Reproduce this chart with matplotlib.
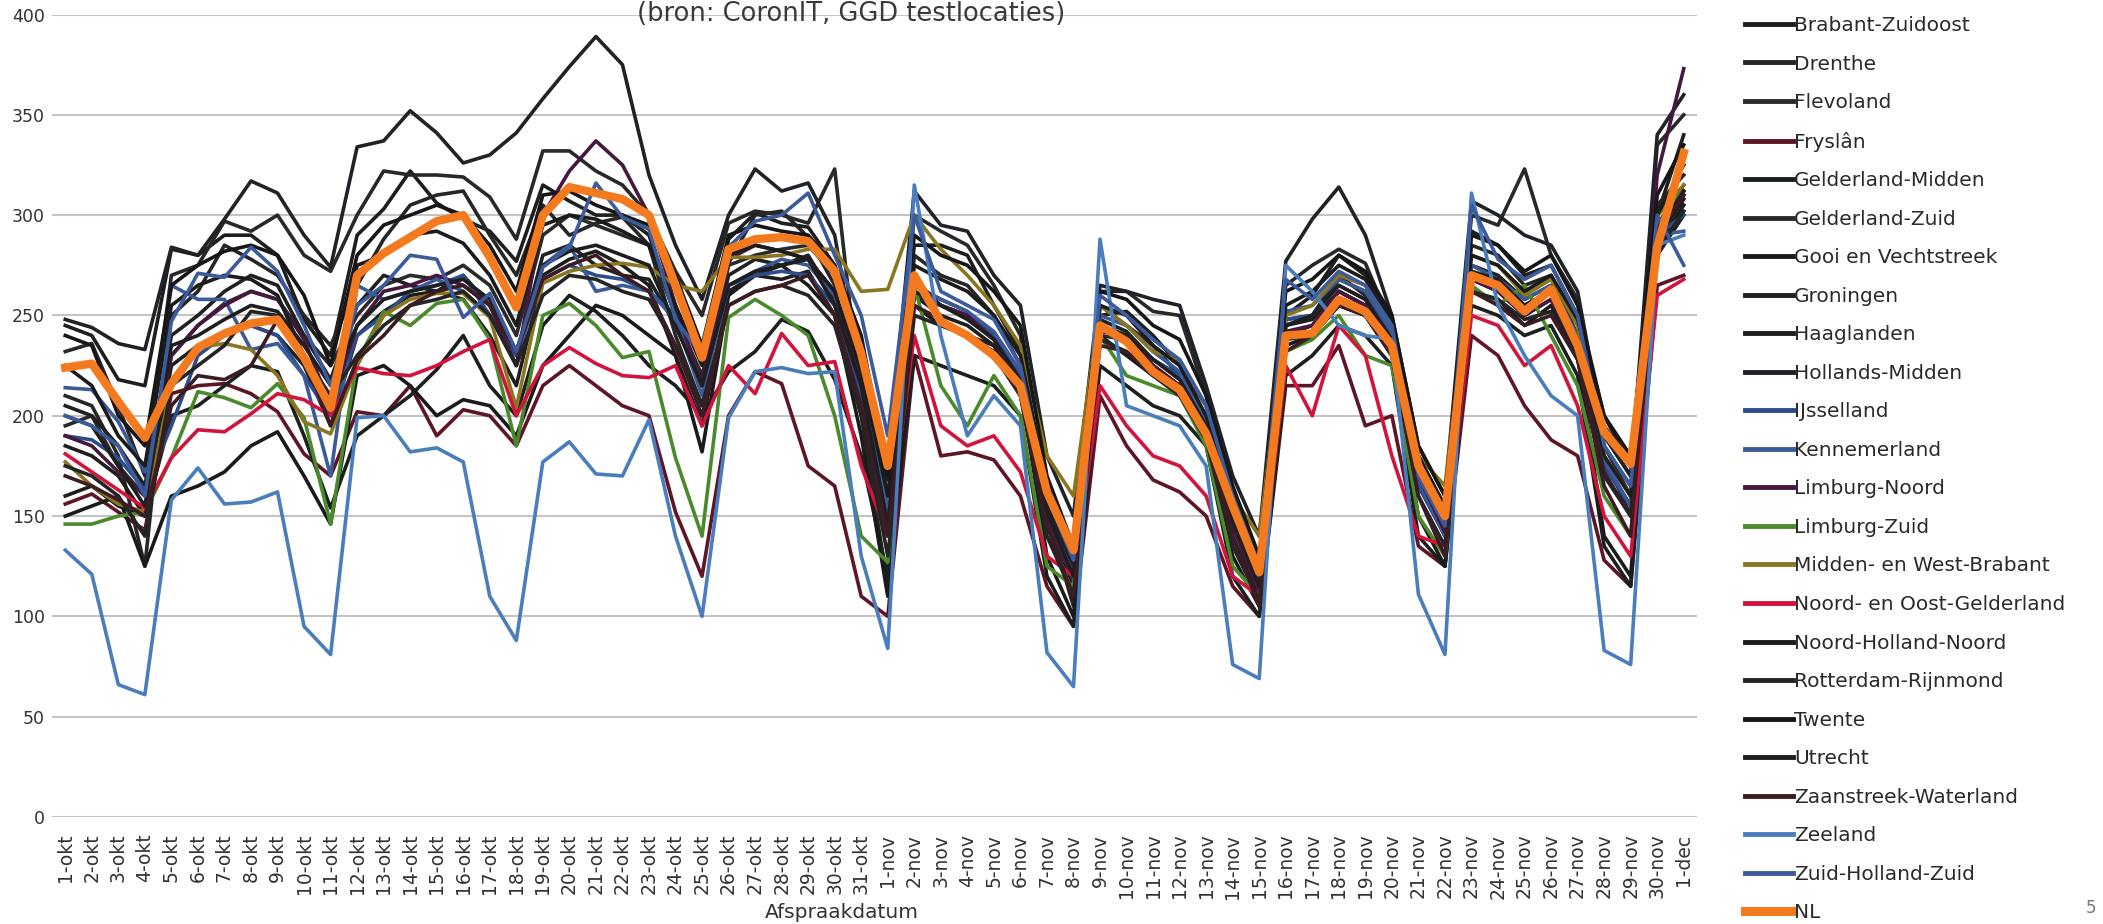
import matplotlib
matplotlib.use("Agg")
import matplotlib.pyplot as plt

days = [f"{d}-okt" for d in range(1, 32)] + [f"{d}-nov" for d in range(1, 31)] + ["1-dec"]

regions = ["Brabant-Zuidoost", "Drenthe", "Flevoland", "Fryslân", "Gelderland-Midden",
           "Gelderland-Zuid", "Gooi en Vechtstreek", "Groningen", "Haaglanden",
           "Hollands-Midden", "IJsselland", "Kennemerland", "Limburg-Noord", "Limburg-Zuid",
           "Midden- en West-Brabant", "Noord- en Oost-Gelderland", "Noord-Holland-Noord",
           "Rotterdam-Rijnmond", "Twente", "Utrecht", "Zaanstreek-Waterland", "Zeeland",
           "Zuid-Holland-Zuid", "NL"]

brabant_zo = [245, 240, 218, 215, 283, 280, 290, 290, 280, 248, 230, 290, 303, 322, 306, 298, 292, 277, 315, 307, 300, 300, 290, 252, 216, 288, 301, 296, 294, 275, 230,
              168, 285, 285, 280, 255, 232, 160, 125, 250, 252, 240, 225, 205, 160, 125, 250, 260, 280, 270, 245, 172, 145, 292, 285, 270, 275, 250, 200, 175, 300, 340]
drenthe = [210, 205, 180, 125, 250, 262, 285, 278, 270, 250, 235, 265, 288, 305, 310, 312, 290, 270, 305, 290, 296, 299, 285, 240, 205, 276, 300, 302, 289, 265, 200,
           115, 280, 270, 265, 250, 225, 150, 105, 255, 245, 235, 220, 195, 145, 115, 245, 250, 270, 260, 235, 170, 140, 285, 280, 265, 270, 240, 180, 150, 305, 320]
flevoland = [195, 200, 175, 160, 230, 245, 256, 262, 258, 240, 225, 250, 265, 270, 268, 275, 265, 240, 290, 300, 295, 290, 285, 250, 220, 275, 280, 283, 285, 270, 225,
             160, 260, 255, 250, 240, 220, 160, 130, 240, 238, 225, 215, 190, 150, 118, 240, 245, 262, 255, 238, 178, 150, 270, 268, 255, 262, 235, 190, 170, 290, 310]
fryslan = [156, 161, 152, 143, 211, 215, 216, 211, 202, 181, 170, 202, 200, 215, 190, 203, 200, 185, 215, 225, 215, 205, 200, 152, 120, 200, 222, 216, 175, 165, 110,
           100, 230, 180, 182, 178, 160, 115, 95, 210, 185, 168, 162, 150, 115, 100, 215, 215, 235, 195, 200, 135, 125, 240, 230, 205, 188, 180, 128, 115, 265, 270]
gelderland_m = [160, 165, 155, 150, 200, 205, 215, 225, 222, 190, 154, 190, 200, 210, 223, 240, 215, 200, 245, 260, 252, 240, 225, 215, 200, 222, 232, 248, 242, 218, 180,
                120, 230, 225, 220, 215, 200, 120, 95, 225, 215, 205, 200, 185, 120, 100, 220, 230, 245, 240, 225, 140, 125, 255, 250, 240, 245, 220, 135, 115, 280, 300]
gelderland_z = [232, 236, 205, 170, 270, 275, 297, 292, 300, 280, 272, 300, 322, 320, 320, 319, 309, 288, 332, 332, 322, 315, 300, 272, 250, 296, 302, 300, 296, 323, 205,
                150, 300, 292, 285, 265, 240, 150, 120, 262, 262, 252, 250, 210, 150, 120, 265, 275, 283, 276, 245, 180, 150, 300, 295, 323, 280, 258, 185, 160, 335, 350]
gooi = [150, 155, 160, 125, 160, 165, 172, 185, 192, 170, 146, 220, 225, 215, 200, 208, 205, 190, 225, 240, 255, 250, 240, 230, 182, 260, 270, 275, 265, 250, 190,
        110, 255, 245, 240, 235, 215, 130, 100, 240, 230, 220, 215, 190, 130, 105, 235, 240, 255, 250, 230, 150, 125, 262, 258, 245, 255, 230, 140, 120, 285, 305]
groningen = [205, 200, 185, 165, 240, 250, 262, 270, 265, 240, 218, 255, 270, 265, 262, 270, 255, 230, 280, 285, 275, 270, 268, 245, 215, 270, 278, 275, 280, 258, 210,
             150, 265, 258, 252, 240, 222, 155, 125, 248, 242, 228, 220, 195, 150, 118, 248, 250, 268, 262, 240, 175, 148, 275, 270, 258, 265, 240, 185, 165, 295, 315]
haaglanden = [185, 180, 170, 150, 225, 235, 240, 245, 240, 225, 195, 240, 252, 260, 262, 258, 240, 215, 270, 278, 282, 275, 265, 230, 195, 262, 270, 268, 272, 250, 205,
              140, 260, 250, 245, 235, 215, 150, 115, 245, 240, 225, 215, 192, 140, 110, 245, 248, 262, 255, 235, 170, 140, 268, 262, 250, 258, 232, 175, 155, 288, 308]
hollands_m = [248, 244, 236, 233, 284, 280, 298, 317, 311, 290, 274, 334, 337, 352, 341, 326, 330, 341, 358, 374, 389, 375, 320, 285, 258, 300, 323, 312, 316, 290, 215,
              175, 312, 295, 292, 270, 255, 180, 150, 265, 262, 258, 255, 215, 170, 140, 277, 298, 314, 290, 250, 185, 160, 307, 300, 290, 285, 262, 190, 170, 340, 360]
ijsselland = [190, 188, 179, 163, 195, 230, 240, 245, 240, 220, 200, 240, 250, 262, 265, 270, 250, 230, 268, 275, 270, 268, 262, 250, 215, 265, 270, 272, 270, 255, 210,
              150, 262, 255, 250, 240, 220, 150, 120, 245, 240, 228, 220, 195, 150, 118, 248, 250, 265, 258, 240, 165, 140, 270, 265, 255, 262, 238, 175, 155, 290, 300]
kennemerland = [214, 213, 197, 172, 265, 258, 258, 233, 236, 220, 170, 265, 258, 262, 268, 262, 250, 225, 275, 285, 262, 265, 262, 248, 210, 265, 272, 278, 275, 260, 215,
                155, 265, 258, 252, 242, 222, 150, 118, 250, 245, 232, 222, 198, 150, 115, 252, 255, 268, 262, 242, 168, 140, 275, 268, 258, 265, 240, 178, 155, 290, 292]
limburg_n = [190, 185, 172, 160, 230, 245, 255, 262, 258, 238, 205, 245, 262, 265, 270, 265, 255, 225, 300, 322, 337, 325, 300, 255, 215, 278, 285, 282, 278, 262, 215,
             145, 268, 255, 250, 238, 215, 150, 118, 242, 240, 225, 215, 192, 145, 112, 242, 245, 262, 255, 235, 170, 142, 268, 262, 250, 258, 232, 172, 150, 320, 373]
limburg_z = [146, 146, 150, 152, 179, 212, 209, 204, 216, 199, 146, 227, 252, 245, 256, 258, 238, 185, 250, 256, 245, 229, 232, 179, 140, 249, 258, 250, 240, 200, 140,
             127, 265, 215, 195, 220, 200, 125, 115, 240, 220, 215, 210, 185, 125, 110, 232, 238, 250, 230, 225, 150, 130, 265, 255, 265, 240, 215, 160, 140, 300, 312]
mwb = [177, 165, 156, 152, 216, 234, 236, 233, 220, 197, 191, 225, 250, 258, 261, 261, 249, 204, 266, 272, 275, 276, 274, 265, 262, 279, 279, 280, 283, 283, 262,
       263, 300, 283, 270, 255, 235, 180, 160, 255, 245, 232, 228, 205, 160, 140, 250, 255, 270, 265, 245, 180, 165, 280, 275, 260, 268, 245, 180, 160, 300, 315]
nog = [181, 172, 163, 154, 179, 193, 192, 201, 211, 208, 200, 224, 221, 220, 225, 232, 238, 200, 225, 234, 226, 220, 219, 225, 195, 225, 211, 241, 225, 227, 175,
       140, 240, 195, 185, 190, 172, 130, 120, 215, 195, 180, 175, 160, 120, 110, 225, 200, 245, 230, 180, 140, 135, 250, 245, 225, 235, 205, 150, 130, 260, 268]
nhn = [225, 215, 190, 175, 255, 265, 270, 268, 260, 230, 205, 275, 280, 290, 292, 286, 270, 245, 295, 300, 298, 292, 285, 255, 225, 280, 285, 282, 278, 262, 222,
       160, 275, 268, 262, 250, 230, 165, 130, 255, 250, 235, 225, 200, 160, 125, 255, 262, 275, 268, 248, 180, 155, 280, 275, 262, 270, 248, 195, 175, 300, 325]
rotterdam = [175, 170, 160, 140, 215, 225, 235, 252, 250, 230, 210, 230, 245, 255, 258, 262, 250, 225, 260, 270, 268, 262, 258, 235, 205, 255, 262, 265, 260, 245, 200,
             130, 250, 245, 240, 230, 210, 140, 110, 238, 232, 220, 210, 188, 135, 108, 238, 240, 255, 250, 230, 160, 135, 262, 258, 248, 252, 228, 170, 150, 282, 302]
twente = [240, 235, 200, 185, 265, 275, 282, 285, 280, 260, 225, 280, 295, 300, 305, 300, 285, 262, 310, 312, 305, 300, 295, 270, 235, 290, 295, 292, 290, 275, 240,
          170, 290, 280, 275, 262, 245, 170, 135, 262, 258, 245, 238, 210, 165, 130, 262, 268, 280, 272, 250, 185, 160, 290, 285, 272, 280, 255, 200, 180, 310, 335]
utrecht = [200, 195, 175, 155, 235, 240, 248, 255, 252, 235, 215, 245, 258, 262, 265, 268, 258, 232, 275, 282, 285, 280, 275, 245, 215, 265, 272, 275, 278, 255, 215,
           145, 262, 255, 248, 238, 218, 152, 120, 245, 240, 228, 218, 195, 148, 115, 245, 250, 265, 258, 238, 172, 145, 272, 268, 255, 262, 238, 180, 160, 292, 312]
zaanstreek = [170, 165, 158, 150, 205, 220, 218, 225, 248, 230, 195, 228, 240, 255, 262, 265, 255, 232, 268, 275, 280, 270, 262, 235, 200, 255, 262, 265, 270, 250, 205,
              140, 255, 248, 240, 232, 210, 145, 110, 235, 232, 220, 212, 190, 140, 105, 232, 240, 255, 250, 230, 160, 130, 262, 255, 245, 250, 228, 165, 140, 290, 310]
zeeland = [133, 121, 66, 61, 158, 174, 156, 157, 162, 95, 81, 199, 200, 182, 184, 177, 110, 88, 177, 187, 171, 170, 198, 140, 100, 199, 222, 224, 221, 222, 130,
           84, 315, 240, 190, 210, 195, 82, 65, 288, 205, 200, 195, 175, 76, 69, 275, 262, 245, 240, 238, 111, 81, 311, 255, 230, 210, 200, 83, 76, 285, 290]
zhz = [200, 195, 185, 160, 247, 271, 269, 284, 272, 245, 215, 255, 265, 280, 278, 249, 261, 232, 274, 284, 316, 299, 293, 248, 230, 284, 297, 300, 311, 280, 250,
       190, 300, 262, 255, 248, 225, 160, 128, 260, 250, 238, 228, 205, 160, 125, 268, 258, 272, 265, 245, 170, 145, 305, 278, 268, 275, 250, 185, 165, 300, 275]
nl = [224, 226, 207, 189, 216, 234, 241, 246, 248, 229, 204, 270, 281, 289, 297, 300, 279, 254, 300, 314, 311, 308, 300, 265, 229, 283, 288, 289, 287, 272, 231,
      175, 270, 247, 240, 230, 215, 162, 133, 245, 237, 222, 213, 191, 155, 122, 240, 241, 258, 252, 235, 175, 150, 270, 265, 252, 263, 235, 192, 176, 284, 331]

series = [brabant_zo, drenthe, flevoland, fryslan, gelderland_m, gelderland_z, gooi, groningen,
          haaglanden, hollands_m, ijsselland, kennemerland, limburg_n, limburg_z, mwb, nog, nhn,
          rotterdam, twente, utrecht, zaanstreek, zeeland, zhz, nl]

colors = ["#1e1e1e", "#262626", "#2a2a2a", "#5e1526", "#1c201c", "#282828", "#1a1a1a", "#202020",
          "#1d1d1d", "#1f2226", "#2d4c8c", "#3a5a98", "#46183f", "#4a8a2c", "#8a7620", "#d2143c",
          "#1b1b1b", "#242424", "#161616", "#1e1e1e", "#3a1c22", "#4a7dbb", "#3c5b9c", "#f47a20"]

plt.rcParams['font.family'] = ['DejaVu Sans']
fig = plt.figure(figsize=(21.03, 9.24), dpi=100)
ax = fig.add_axes([52 / 2103, 1 - 817 / 924, (1697 - 52) / 2103, (817 - 14.5) / 924])

x = list(range(len(days)))
for name, vals, c in zip(regions, series, colors):
    lw = 6.0 if name == "NL" else 2.6
    ax.plot(x, vals, color=c, lw=lw, label=name, solid_joinstyle='round',
            zorder=5 if name == "NL" else 3)

ax.set_xlim(-0.5, len(days) - 0.5)
ax.set_ylim(0, 400)
ax.set_yticks(range(0, 401, 50))
ax.set_xticks(x)
ax.set_xticklabels(days, rotation=90, va='top', ha='center')
ax.tick_params(axis='both', length=0, labelsize=13.5, colors='#333333')
ax.tick_params(axis='x', pad=12)
ax.tick_params(axis='y', pad=5, labelsize=12.5)
ax.grid(axis='y', color='#c4c4c4', lw=1.5)
ax.set_axisbelow(True)
for s in ax.spines.values():
    s.set_visible(False)

fig.text(842 / 2103, 1 - 912 / 924, "Afspraakdatum", ha='center', va='center',
         fontsize=14.5, color='#333333')
fig.text(851 / 2103, 1 - 14 / 924, "(bron: CoronIT, GGD testlocaties)", ha='center',
         va='center', fontsize=18.5, color='#3a3a3a')
fig.text(2091 / 2103, 1 - 908 / 924, "5", ha='center', va='center', fontsize=12, color='#777777')

leg = fig.legend(loc='upper left', bbox_to_anchor=(1745 / 2103, 1 - 16 / 924), frameon=False,
                 fontsize=14.5, handlelength=2.4, handletextpad=0.05, labelspacing=0.97,
                 borderpad=0, borderaxespad=0)
for h in leg.legend_handles:
    h.set_linewidth(6.5 if h.get_label() == "NL" else 3.5)
for t in leg.get_texts():
    t.set_color('#2a2a2a')

fig.savefig("out.png", dpi=100)
